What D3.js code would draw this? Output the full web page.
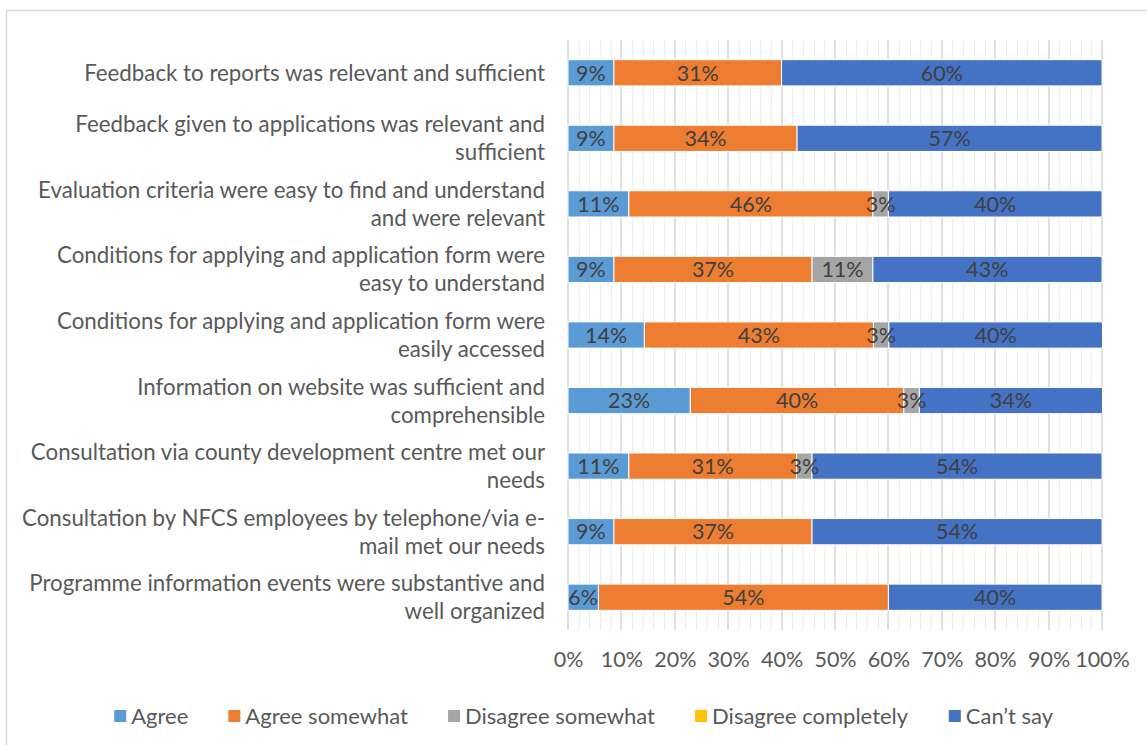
<!DOCTYPE html>
<html lang="en">
<head>
<meta charset="utf-8">
<title>Satisfaction with programme information</title>
<script src="https://cdn.jsdelivr.net/npm/d3@7"></script>
<style>
  html,body{margin:0;padding:0;background:#fff}
  svg text{font-family:Lato,"Open Sans",sans-serif}
</style>
</head>
<body>
<div id="chart"></div>
<script>
// categories, top to bottom
var categories = [
  ["Feedback to reports was relevant and sufficient"],
  ["Feedback given to applications was relevant and", "sufficient"],
  ["Evaluation criteria were easy to find and understand", "and were relevant"],
  ["Conditions for applying and application form were", "easy to understand"],
  ["Conditions for applying and application form were", "easily accessed"],
  ["Information on website was sufficient and", "comprehensible"],
  ["Consultation via county development centre met our", "needs"],
  ["Consultation by NFCS employees by telephone/via e-", "mail met our needs"],
  ["Programme information events were substantive and", "well organized"]
];
var seriesNames = ["Agree", "Agree somewhat", "Disagree somewhat", "Disagree completely", "Can\u2019t say"];
var seriesColors = ["#5B9BD5", "#ED7D31", "#A5A5A5", "#FFC000", "#4472C4"];
// share of answers (%) per series, same order as categories
var agree          = [8.6, 8.6, 11.4, 8.6, 14.3, 22.9, 11.4, 8.6, 5.7];
var agreeSomewhat  = [31.4, 34.3, 45.7, 37.1, 42.9, 40.0, 31.4, 37.1, 54.3];
var disagreeSome   = [0, 0, 2.9, 11.4, 2.9, 2.9, 2.9, 0, 0];
var disagreeComp   = [0, 0, 0, 0, 0, 0, 0, 0, 0];
var cantSay        = [60.0, 57.1, 40.0, 42.9, 40.0, 34.3, 54.3, 54.3, 40.0];
var xTicks = [0, 10, 20, 30, 40, 50, 60, 70, 80, 90, 100];

var W = 1147, H = 745;
var plot = {left: 568, right: 1102, top: 40, bottom: 630};
var fontSize = 21.5;

var rows = categories.map(function(c, i) {
  return {label: c, Agree: agree[i], "Agree somewhat": agreeSomewhat[i],
    "Disagree somewhat": disagreeSome[i], "Disagree completely": disagreeComp[i],
    "Can\u2019t say": cantSay[i], idx: i};
});
var stacked = d3.stack().keys(seriesNames)(rows);

var x = d3.scaleLinear().domain([0, 100]).range([plot.left, plot.right]);
var y = d3.scaleBand().domain(d3.range(categories.length))
  .range([plot.top, plot.bottom]).paddingInner(0.6).paddingOuter(0.3);
var color = d3.scaleOrdinal().domain(seriesNames).range(seriesColors);

var svg = d3.select("#chart").append("svg")
  .attr("width", W).attr("height", H);

// chart frame
svg.append("rect")
  .attr("x", 6.5).attr("y", 10.5).attr("width", W + 10).attr("height", H + 10)
  .attr("fill", "#fff").attr("stroke", "#d9d9d9").attr("stroke-width", 1.5);

// gridlines: minor every 2%, major every 10%
svg.append("g").selectAll("line")
  .data(d3.range(2, 100, 2).filter(function(v){return v % 10 !== 0;}))
  .join("line")
  .attr("x1", function(d){return Math.round(x(d)) + 0.5;})
  .attr("x2", function(d){return Math.round(x(d)) + 0.5;})
  .attr("y1", plot.top).attr("y2", plot.bottom)
  .attr("stroke", "#eeeeee").attr("stroke-width", 1);
svg.append("g").selectAll("line")
  .data(xTicks)
  .join("line")
  .attr("x1", function(d){return Math.round(x(d));})
  .attr("x2", function(d){return Math.round(x(d));})
  .attr("y1", plot.top).attr("y2", plot.bottom)
  .attr("stroke", "#d9d9d9").attr("stroke-width", 1.6);

// bars
var fmt = function(v){return Math.round(v) + "%";};
var layers = svg.append("g").selectAll("g")
  .data(stacked)
  .join("g")
  .attr("fill", function(d){return color(d.key);});
layers.selectAll("rect")
  .data(function(d){return d;})
  .join("rect")
  .attr("x", function(d){return x(d[0]);})
  .attr("width", function(d){return x(d[1]) - x(d[0]);})
  .attr("y", function(d){return y(d.data.idx);})
  .attr("height", y.bandwidth())
  .attr("stroke", "#fff").attr("stroke-width", 1);

// data labels
stacked.forEach(function(layer) {
  svg.append("g").selectAll("text")
    .data(layer.filter(function(d){return d[1] - d[0] > 0;}))
    .join("text")
    .attr("x", function(d){return (x(d[0]) + x(d[1])) / 2;})
    .attr("y", function(d){return y(d.data.idx) + y.bandwidth() / 2;})
    .attr("dy", "0.36em")
    .attr("text-anchor", "middle")
    .attr("font-size", fontSize)
    .attr("fill", "#404040")
    .text(function(d){return fmt(d[1] - d[0]);});
});

// category labels
var catG = svg.append("g").selectAll("text")
  .data(categories)
  .join("text")
  .attr("text-anchor", "end")
  .attr("font-size", 22.3)
  .attr("fill", "#595959")
  .attr("y", function(d, i){
    return y(i) + y.bandwidth() / 2 - (d.length - 1) * 14;
  });
catG.selectAll("tspan")
  .data(function(d){return d;})
  .join("tspan")
  .attr("x", 545)
  .attr("dy", function(d, j){return j === 0 ? "0.36em" : 28;})
  .text(function(d){return d;});

// x axis
var xAxis = d3.axisBottom(x).tickValues(xTicks).tickSize(0).tickPadding(0)
  .tickFormat(function(d){return d + "%";});
var gx = svg.append("g").attr("transform", "translate(0," + 654 + ")").call(xAxis);
gx.select(".domain").remove();
gx.selectAll("text").attr("font-size", fontSize).attr("fill", "#595959")
  .attr("font-family", "Lato,'Open Sans',sans-serif").attr("dy", "0.6em");

// legend
var legend = svg.append("g").attr("transform", "translate(0,716)");
var items = legend.selectAll("g").data(seriesNames).join("g");
items.append("rect").attr("x", 0).attr("y", -6).attr("width", 12).attr("height", 12)
  .attr("fill", function(d){return color(d);});
items.append("text").attr("x", 17).attr("dy", "0.36em")
  .attr("font-size", 22).attr("fill", "#595959")
  .text(function(d){return d;});
var widths = [];
items.each(function(){widths.push(this.getBBox().width);});
var gap = 40;
var total = d3.sum(widths) + gap * (widths.length - 1);
var pos = 584 - total / 2;
items.attr("transform", function(d, i){
  var t = "translate(" + pos + ",0)";
  pos += widths[i] + gap;
  return t;
});
</script>
</body>
</html>
